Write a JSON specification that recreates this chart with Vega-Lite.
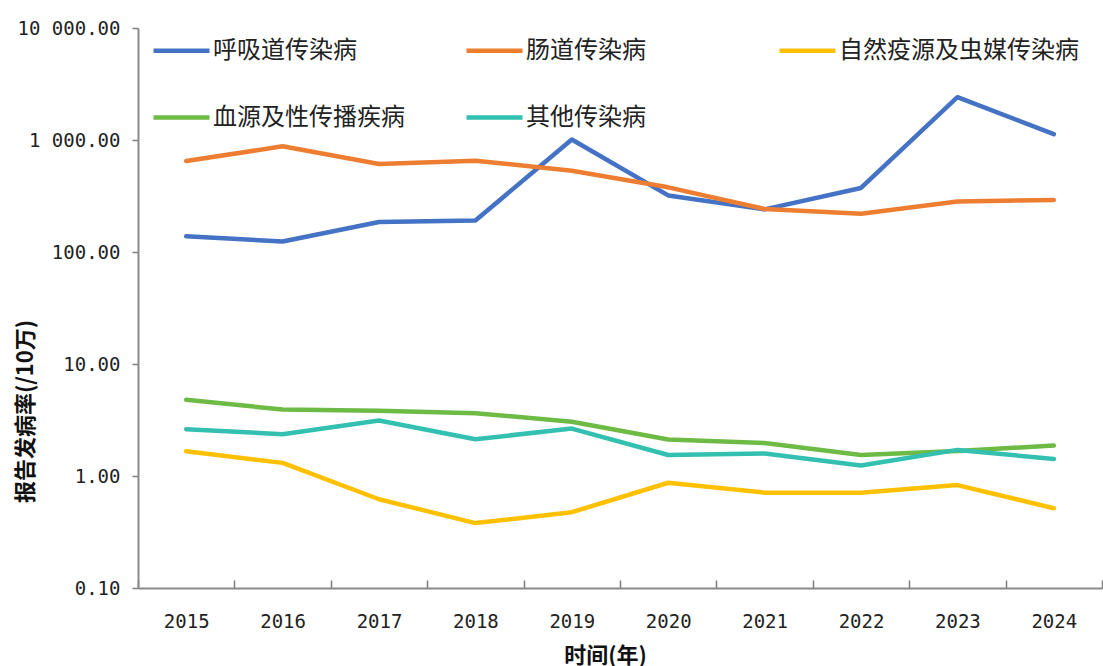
{
  "$schema": "https://vega.github.io/schema/vega-lite/v6.json",
  "width": 964,
  "height": 560,
  "autosize": {"type": "none"},
  "padding": {"left": 138, "top": 28, "right": 1, "bottom": 78},
  "background": "white",
  "config": {"view": {"stroke": null}},
  "data": {
    "values": [
      {"year": "2015", "series": "呼吸道传染病", "value": 138},
      {"year": "2016", "series": "呼吸道传染病", "value": 124},
      {"year": "2017", "series": "呼吸道传染病", "value": 185},
      {"year": "2018", "series": "呼吸道传染病", "value": 191},
      {"year": "2019", "series": "呼吸道传染病", "value": 1010},
      {"year": "2020", "series": "呼吸道传染病", "value": 320},
      {"year": "2021", "series": "呼吸道传染病", "value": 240},
      {"year": "2022", "series": "呼吸道传染病", "value": 373},
      {"year": "2023", "series": "呼吸道传染病", "value": 2410},
      {"year": "2024", "series": "呼吸道传染病", "value": 1128},
      {"year": "2015", "series": "肠道传染病", "value": 649},
      {"year": "2016", "series": "肠道传染病", "value": 878},
      {"year": "2017", "series": "肠道传染病", "value": 611},
      {"year": "2018", "series": "肠道传染病", "value": 654},
      {"year": "2019", "series": "肠道传染病", "value": 532},
      {"year": "2020", "series": "肠道传染病", "value": 378},
      {"year": "2021", "series": "肠道传染病", "value": 242},
      {"year": "2022", "series": "肠道传染病", "value": 220},
      {"year": "2023", "series": "肠道传染病", "value": 283},
      {"year": "2024", "series": "肠道传染病", "value": 291},
      {"year": "2015", "series": "自然疫源及虫媒传染病", "value": 1.66},
      {"year": "2016", "series": "自然疫源及虫媒传染病", "value": 1.31},
      {"year": "2017", "series": "自然疫源及虫媒传染病", "value": 0.62},
      {"year": "2018", "series": "自然疫源及虫媒传染病", "value": 0.38},
      {"year": "2019", "series": "自然疫源及虫媒传染病", "value": 0.475},
      {"year": "2020", "series": "自然疫源及虫媒传染病", "value": 0.87},
      {"year": "2021", "series": "自然疫源及虫媒传染病", "value": 0.71},
      {"year": "2022", "series": "自然疫源及虫媒传染病", "value": 0.71},
      {"year": "2023", "series": "自然疫源及虫媒传染病", "value": 0.83},
      {"year": "2024", "series": "自然疫源及虫媒传染病", "value": 0.515},
      {"year": "2015", "series": "血源及性传播疾病", "value": 4.79},
      {"year": "2016", "series": "血源及性传播疾病", "value": 3.92},
      {"year": "2017", "series": "血源及性传播疾病", "value": 3.82},
      {"year": "2018", "series": "血源及性传播疾病", "value": 3.64},
      {"year": "2019", "series": "血源及性传播疾病", "value": 3.05},
      {"year": "2020", "series": "血源及性传播疾病", "value": 2.12},
      {"year": "2021", "series": "血源及性传播疾病", "value": 1.97},
      {"year": "2022", "series": "血源及性传播疾病", "value": 1.54},
      {"year": "2023", "series": "血源及性传播疾病", "value": 1.67},
      {"year": "2024", "series": "血源及性传播疾病", "value": 1.87},
      {"year": "2015", "series": "其他传染病", "value": 2.62},
      {"year": "2016", "series": "其他传染病", "value": 2.36},
      {"year": "2017", "series": "其他传染病", "value": 3.13},
      {"year": "2018", "series": "其他传染病", "value": 2.13},
      {"year": "2019", "series": "其他传染病", "value": 2.65},
      {"year": "2020", "series": "其他传染病", "value": 1.54},
      {"year": "2021", "series": "其他传染病", "value": 1.59},
      {"year": "2022", "series": "其他传染病", "value": 1.24},
      {"year": "2023", "series": "其他传染病", "value": 1.71},
      {"year": "2024", "series": "其他传染病", "value": 1.42}
    ]
  },
  "mark": {"type": "line", "strokeWidth": 4.5, "strokeCap": "round", "strokeJoin": "round"},
  "encoding": {
    "x": {
      "field": "year",
      "type": "ordinal",
      "bandPosition": 0.5,
      "scale": {"type": "band", "paddingInner": 0, "paddingOuter": 0},
      "axis": {
        "title": "时间(年)",
        "titleFont": "Noto Sans CJK SC",
        "titleFontSize": 22,
        "titleFontWeight": "bold",
        "titleColor": "#111111",
        "titleX": 467,
        "titleY": 67,
        "titleBaseline": "middle",
        "labelFont": "DejaVu Sans Mono",
        "labelFontSize": 19,
        "labelColor": "#222222",
        "labelAngle": 0,
        "labelPadding": 32,
        "tickBand": "extent",
        "tickSize": -8,
        "tickColor": "#7f7f7f",
        "tickWidth": 1.5,
        "domainColor": "#8a8a8a",
        "domainWidth": 2,
        "grid": false
      }
    },
    "y": {
      "field": "value",
      "type": "quantitative",
      "scale": {"type": "log", "domain": [0.1, 10000], "nice": false},
      "axis": {
        "title": "报告发病率(/10万)",
        "titleFont": "Noto Sans CJK SC",
        "titleFontSize": 22,
        "titleFontWeight": "bold",
        "titleColor": "#111111",
        "titleAngle": -90,
        "titleX": -113,
        "titleY": 383,
        "titleBaseline": "middle",
        "titleAlign": "center",
        "values": [0.1, 1, 10, 100, 1000, 10000],
        "labelExpr": "replace(format(datum.value, ',.2f'), ',', ' ')",
        "labelFont": "DejaVu Sans Mono",
        "labelFontSize": 19,
        "labelColor": "#222222",
        "labelPadding": 12,
        "tickSize": 6,
        "tickColor": "#7f7f7f",
        "tickWidth": 1.5,
        "domainColor": "#8a8a8a",
        "domainWidth": 2,
        "grid": false
      }
    },
    "color": {
      "field": "series",
      "type": "nominal",
      "scale": {
        "domain": ["呼吸道传染病", "肠道传染病", "自然疫源及虫媒传染病", "血源及性传播疾病", "其他传染病"],
        "range": ["#4472C4", "#ED7D31", "#FFC000", "#6DBB45", "#33C0B0"]
      },
      "legend": {
        "title": null,
        "orient": "none",
        "legendX": 13,
        "legendY": -8,
        "direction": "horizontal",
        "columns": 3,
        "gridAlign": "all",
        "columnPadding": 4,
        "rowPadding": 24,
        "symbolType": "stroke",
        "symbolSize": 3136,
        "symbolStrokeWidth": 4.5,
        "labelFont": "Noto Sans CJK SC",
        "labelFontSize": 24,
        "labelColor": "#222222",
        "labelOffset": 1,
        "labelLimit": 400
      }
    }
  }
}
